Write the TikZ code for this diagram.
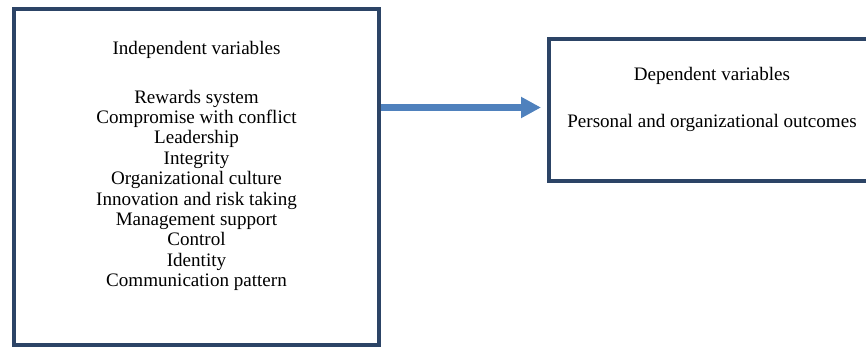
\documentclass[tikz,border=0pt]{standalone}
\usepackage{fontspec}
\setmainfont{Liberation Serif}
\usetikzlibrary{arrows.meta, positioning}
\definecolor{boxline}{RGB}{44,68,102}
\definecolor{arrowblue}{RGB}{79,129,189}
\tikzset{
    varbox/.style={draw=boxline, line width=3pt, inner sep=0pt},
    vartext/.style={align=center, inner sep=0pt, font=\fontsize{14.3}{15.3}\selectfont},
    bigarrow/.style={draw=arrowblue, line width=5pt, -{Triangle[length=15pt, width=15pt]}}
}
\begin{document}
\begin{tikzpicture}[x=0.75pt, y=-0.75pt]
    \useasboundingbox (0,0) rectangle (866,349);
    \clip (0,0) rectangle (866,349);
    % boxes
    \node[varbox, minimum width=273.75pt, minimum height=252pt] (ivbox) at (196.5,177) {};
    \node[varbox, minimum width=244.5pt, minimum height=106.5pt] (dvbox) at (712,110) {};
    % texts
    \node[vartext] (ivtitle) at (196.5,50) {Independent variables};
    \node[vartext, below=23pt of ivtitle] (ivlist) {Rewards system\\ Compromise with conflict\\ Leadership\\ Integrity\\
        Organizational culture\\ Innovation and risk taking\\ Management support\\ Control\\ Identity\\ Communication pattern};
    \node[vartext] (dvtitle) at (712,76) {Dependent variables};
    \node[vartext] (dvitem) at (712,123) {Personal and organizational outcomes};
    % arrow
    \coordinate (tip) at (541,107.5);
    \draw[bigarrow] (ivbox.east |- tip) -- (tip);
\end{tikzpicture}
\end{document}
